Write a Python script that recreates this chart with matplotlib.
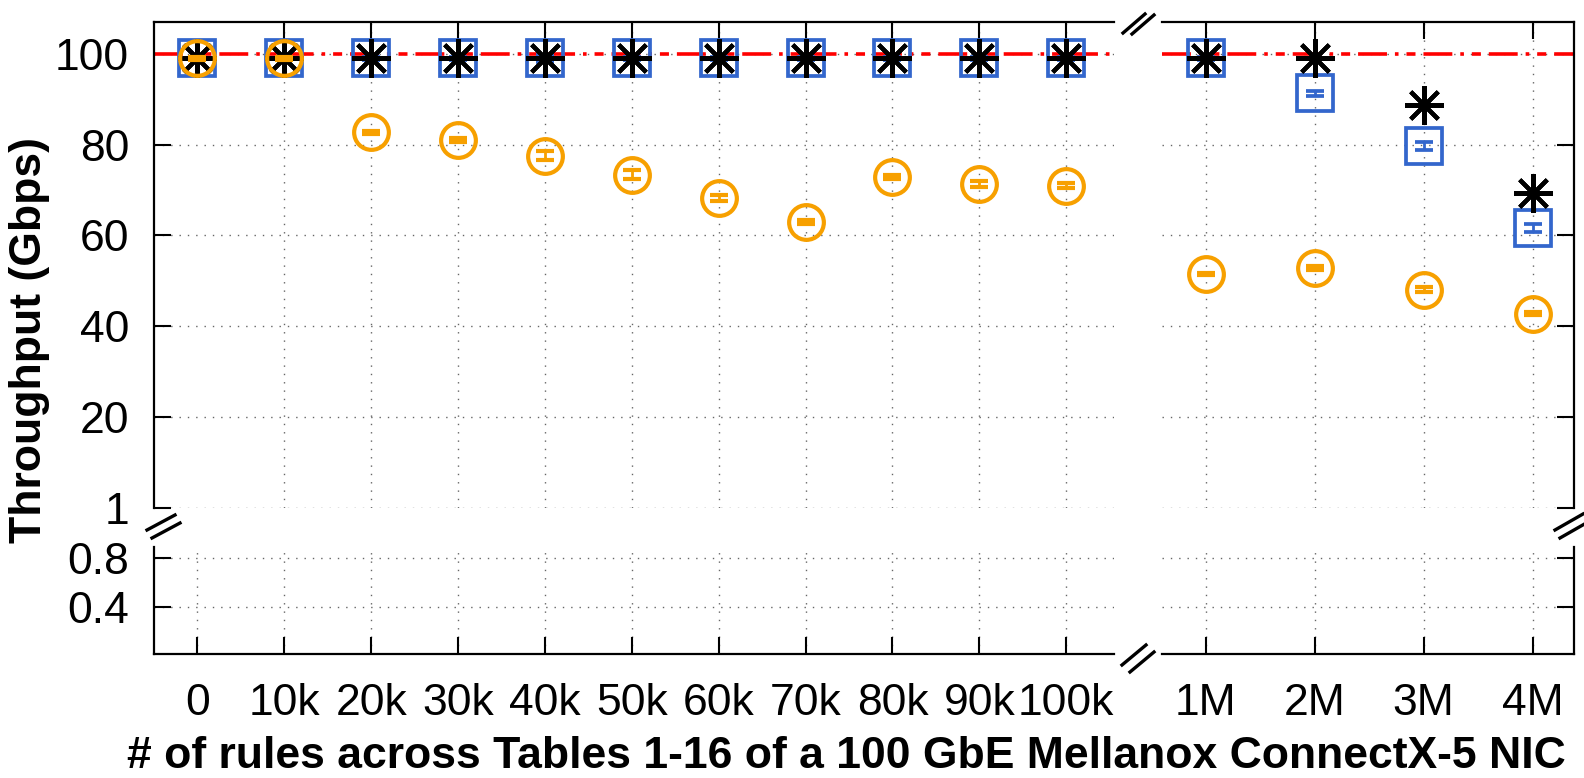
import matplotlib
matplotlib.use("Agg")
from matplotlib import pyplot as plt
from matplotlib.lines import Line2D

plt.rcParams['font.family'] = ['Liberation Sans', 'DejaVu Sans']

# x categories (left panel: 0..100k, right panel: 1M..4M)
left_labels = ['0', '10k', '20k', '30k', '40k', '50k', '60k', '70k', '80k', '90k', '100k']
right_labels = ['1M', '2M', '3M', '4M']

# throughput values in Gbps
star_left = [99, 99, 99, 99, 99, 99, 99, 99, 99, 99, 99]
star_right = [99, 99.1, 88.8, 69.4]

square_left = [99, 99, 99, 99, 99, 99, 99, 99, 99, 99, 99]
square_left_err = [0.3, 0.3, 0.3, 0.3, 0.7, 0.3, 0.3, 0.3, 0.3, 0.3, 0.3]
square_right = [99, 91.3, 79.7, 61.7]
square_right_err = [0.4, 0.5, 0.9, 0.9]

circle_left = [99, 99, 82.7, 81.0, 77.6, 73.4, 68.3, 62.9, 72.9, 71.4, 71.0]
circle_left_err = [0.4, 0.4, 0.3, 0.4, 1.0, 1.0, 0.7, 0.4, 0.4, 0.7, 0.5]
circle_right = [51.5, 52.9, 48.1, 42.8]
circle_right_err = [0.2, 0.4, 0.6, 0.3]

line_rate = 100

yticks_up = [0, 20, 40, 60, 80, 100]
ytick_labels_up = ['1', '20', '40', '60', '80', '100']
yticks_low = [0.4, 0.8]

BLUE = '#3366CC'
ORANGE = '#F7A000'
FS = 32

W, H = 1584, 778
fig = plt.figure(figsize=(W / 100, H / 100), dpi=100)


def box(x0, y0, x1, y1):
    return [x0 / W, 1 - y1 / H, (x1 - x0) / W, (y1 - y0) / H]


ax_ul = fig.add_axes(box(154, 22, 1114, 508))
ax_ur = fig.add_axes(box(1162, 22, 1574, 508))
ax_ll = fig.add_axes(box(154, 547, 1114, 654))
ax_lr = fig.add_axes(box(1162, 547, 1574, 654))

xl = list(range(len(left_labels)))
xr = list(range(1, len(right_labels) + 1))

grid_kw = dict(color='0.4', linestyle=(0, (1, 5)), linewidth=1.0)
tick_kw = dict(direction='in', length=12, width=1.5, labelsize=FS)

for ax in (ax_ul, ax_ur, ax_ll, ax_lr):
    for s in ax.spines.values():
        s.set_linewidth(1.6)
    ax.tick_params(which='both', **tick_kw)

# limits
for ax in (ax_ul, ax_ll):
    ax.set_xlim(-0.5, 10.55)
for ax in (ax_ur, ax_lr):
    ax.set_xlim(0.6, 4.38)
for ax in (ax_ul, ax_ur):
    ax.set_ylim(0, 107)
    ax.spines['bottom'].set_visible(False)
for ax in (ax_ll, ax_lr):
    ax.set_ylim(0.016, 0.89)
    ax.spines['top'].set_visible(False)

ax_ul.spines['right'].set_visible(False)
ax_ll.spines['right'].set_visible(False)
ax_ur.spines['left'].set_visible(False)
ax_lr.spines['left'].set_visible(False)

# upper-left: ticks on top only (none at 0)
ax_ul.set_xticks(xl[1:])
ax_ul.tick_params(axis='x', bottom=False, top=True, labelbottom=False)
ax_ul.set_yticks(yticks_up)
ax_ul.set_yticklabels(ytick_labels_up)
ax_ul.tick_params(axis='y', pad=18)

ax_ur.set_xticks(xr)
ax_ur.tick_params(axis='x', bottom=False, top=True, labelbottom=False)
ax_ur.set_yticks(yticks_up)
ax_ur.tick_params(axis='y', left=False, right=True, labelleft=False)

ax_ll.set_xticks(xl)
ax_ll.set_xticklabels(left_labels)
ax_ll.set_yticks(yticks_low)
ax_ll.tick_params(axis='y', pad=18)
ax_ll.tick_params(axis='x', pad=21)

ax_lr.set_xticks(xr)
ax_lr.set_xticklabels(right_labels)
ax_lr.set_yticks(yticks_low)
ax_lr.tick_params(axis='y', left=False, right=True, labelleft=False)
ax_lr.tick_params(axis='x', pad=21)

for ax in (ax_ul, ax_ur, ax_ll, ax_lr):
    ax.grid(True, **grid_kw)
    ax.set_axisbelow(True)

# line rate
for ax in (ax_ul, ax_ur):
    ax.axhline(line_rate, color='red', linewidth=2.6,
               linestyle=(0, (8, 2.2, 1, 2.2, 2.5, 2.2)), zorder=2)


def draw(ax, x, sq, sq_err, st, ci, ci_err):
    ax.errorbar(x, sq, yerr=sq_err, fmt='s', ms=25.5, mfc='none', mec=BLUE, mew=2.7,
                ecolor=BLUE, elinewidth=2, capsize=6.5, capthick=2.4, zorder=3)
    ax.plot(x, st, ls='none', marker=(8, 2, 0), ms=28, mec='black', mew=3.0,
            color='black', zorder=4)
    ax.errorbar(x, ci, yerr=ci_err, fmt='o', ms=25, mfc='none', mec=ORANGE, mew=3.0,
                ecolor=ORANGE, elinewidth=2, capsize=6.5, capthick=3, zorder=5)


draw(ax_ul, xl, square_left, square_left_err, star_left, circle_left, circle_left_err)
draw(ax_ur, xr, square_right, square_right_err, star_right, circle_right, circle_right_err)

# break marks
breaks = [
    ((147, 530), (175, 515)), ((152, 538), (180, 523)),
    ((1555, 530), (1583, 514)), ((1560, 538), (1588, 522)),
    ((1123, 33), (1145, 14)), ((1132, 34), (1154, 15)),
    ((1122, 665), (1146, 645)), ((1130, 672), (1154, 652)),
]
for (x0, y0), (x1, y1) in breaks:
    fig.add_artist(Line2D([x0 / W, x1 / W], [1 - y0 / H, 1 - y1 / H],
                          color='black', linewidth=2.4, transform=fig.transFigure))

fig.text(30 / W, 1 - 340 / H, 'Throughput (Gbps)', rotation=90, fontsize=FS,
         fontweight='bold', ha='center', va='center')
fig.text(846 / W, 1 - 757 / H,
         '# of rules across Tables 1-16 of a 100 GbE Mellanox ConnectX-5 NIC',
         fontsize=FS, fontweight='bold', ha='center', va='center')

fig.savefig('out.png', dpi=100)
